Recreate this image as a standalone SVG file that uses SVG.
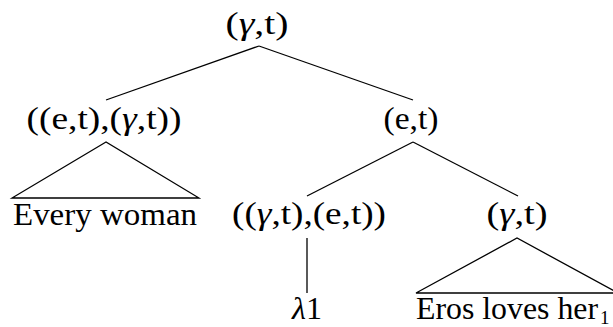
<svg xmlns="http://www.w3.org/2000/svg" width="613" height="327" viewBox="0 0 613 327">
<style>
text{font-family:"Liberation Serif","Times New Roman",serif;font-size:32px;fill:#000;text-anchor:middle}
.g{font-style:italic}
.sub{font-size:19px;text-anchor:start}
line,polyline,polygon{stroke:#000;stroke-width:1.3;fill:none}
</style>
<rect width="613" height="327" fill="#fff"/>
<g id="connectors">
<line x1="259" y1="46" x2="106" y2="100"/>
<line x1="259" y1="46" x2="413" y2="100"/>
<polygon points="106,142 12,198 199,198"/>
<line x1="413" y1="142" x2="307" y2="196"/>
<line x1="413" y1="142" x2="518" y2="196"/>
<line x1="307" y1="238" x2="307" y2="293"/>
<polyline points="618,293 416,293 517,238 618,293"/>
</g>
<g id="root"><text x="257" y="34" textLength="63" lengthAdjust="spacingAndGlyphs">(<tspan class="g">γ</tspan>,t)</text></g>
<g id="left"><text x="104" y="129" textLength="155" lengthAdjust="spacingAndGlyphs">((e,t),(<tspan class="g">γ</tspan>,t))</text></g>
<g id="every-woman"><text x="105" y="225" textLength="184" lengthAdjust="spacingAndGlyphs">Every woman</text></g>
<g id="right"><text x="411" y="129" textLength="55" lengthAdjust="spacingAndGlyphs">(e,t)</text></g>
<g id="lambda-node"><text x="309" y="224" textLength="154" lengthAdjust="spacingAndGlyphs">((<tspan class="g">γ</tspan>,t),(e,t))</text></g>
<g id="lambda1"><text x="307" y="319" textLength="30" lengthAdjust="spacingAndGlyphs"><tspan class="g">λ</tspan>1</text></g>
<g id="gt-node"><text x="517" y="224" textLength="61" lengthAdjust="spacingAndGlyphs">(<tspan class="g">γ</tspan>,t)</text></g>
<g id="eros"><text x="507" y="319" textLength="182" lengthAdjust="spacingAndGlyphs">Eros loves her</text><text class="sub" x="600" y="324">1</text></g>
</svg>
